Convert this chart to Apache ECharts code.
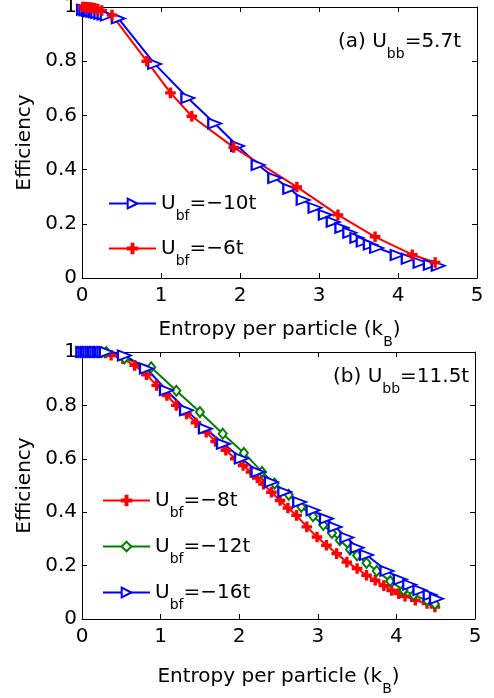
<!DOCTYPE html>
<html>
<head>
<meta charset="utf-8">
<script src="https://cdn.jsdelivr.net/npm/echarts@6/dist/echarts.min.js"></script>
<style>html,body{margin:0;padding:0;background:#fff}#c{width:494px;height:698px}</style>
</head>
<body>
<div id="c"></div>
<script>
// ---- data ----
var xTicks = [0, 1, 2, 3, 4, 5];
var yTicks = [0, 0.2, 0.4, 0.6, 0.8, 1];

// panel (a) U_bb = 5.7t
var aX_m10 = [0.02,0.05,0.08,0.11,0.14,0.17,0.2,0.24,0.28,0.32,0.46,0.92,1.34,1.68,1.97,2.23,2.44,2.63,2.80,2.95,3.08,3.18,3.29,3.39,3.48,3.56,3.65,3.73,3.99,4.13,4.28,4.41,4.51];
var aY_m10 = [0.99,0.988,0.986,0.984,0.982,0.98,0.978,0.975,0.972,0.968,0.958,0.79,0.664,0.57,0.487,0.417,0.369,0.329,0.288,0.259,0.233,0.207,0.185,0.167,0.148,0.134,0.123,0.111,0.085,0.071,0.056,0.049,0.045];
var aX_m6 = [0.01,0.04,0.07,0.1,0.13,0.16,0.2,0.25,0.38,0.82,1.12,1.39,1.92,2.72,3.24,3.71,4.18,4.47];
var aY_m6 = [1.0,1.0,0.999,0.998,0.997,0.995,0.992,0.987,0.97,0.80,0.683,0.597,0.482,0.336,0.233,0.152,0.086,0.057];

// panel (b) U_bb = 11.5t
var bX_m8 = [0.01,0.05,0.1,0.15,0.2,0.25,0.3,0.37,0.52,0.67,0.82,0.95,1.08,1.2,1.33,1.45,1.58,1.7,1.83,1.95,2.05,2.15,2.23,2.31,2.41,2.52,2.62,2.73,2.86,2.99,3.11,3.24,3.37,3.50,3.62,3.73,3.84,3.94,4.03,4.11,4.24,4.39,4.49];
var bY_m8 = [1,1,1,1,0.999,0.998,0.996,0.988,0.975,0.95,0.915,0.875,0.837,0.80,0.768,0.735,0.70,0.665,0.632,0.60,0.575,0.55,0.528,0.505,0.475,0.444,0.416,0.388,0.345,0.307,0.276,0.245,0.213,0.189,0.164,0.145,0.125,0.107,0.095,0.085,0.07,0.058,0.045];
var bX_m12 = [0.01,0.05,0.1,0.15,0.2,0.25,0.31,0.54,0.88,1.2,1.5,1.79,2.06,2.29,2.45,2.63,2.79,2.94,3.07,3.18,3.28,3.41,3.50,3.62,3.75,3.92,4.09,4.22,4.39,4.49];
var bY_m12 = [1,1,1,1,1,1,1,0.976,0.943,0.855,0.775,0.694,0.622,0.551,0.507,0.465,0.42,0.385,0.352,0.322,0.295,0.26,0.238,0.21,0.18,0.142,0.108,0.09,0.07,0.056];
var bX_m16 = [0.01,0.04,0.07,0.1,0.13,0.16,0.19,0.22,0.25,0.28,0.31,0.54,0.82,1.075,1.33,1.57,1.80,2.03,2.24,2.41,2.58,2.77,2.94,3.11,3.22,3.37,3.50,3.62,3.88,4.05,4.17,4.30,4.43,4.51];
var bY_m16 = [1,1,1,1,1,1,1,1,1,1,1,0.987,0.938,0.857,0.782,0.713,0.656,0.601,0.551,0.513,0.476,0.438,0.407,0.376,0.345,0.305,0.267,0.24,0.18,0.148,0.128,0.108,0.09,0.076];

var seriesNames = ['U_bf=−10t','U_bf=−6t','U_bf=−8t','U_bf=−12t','U_bf=−16t'];

// ---- build ----
function zip(xs, ys){ return xs.map(function(x,i){return [x, ys[i]];}); }
var FONT = '"DejaVu Sans", Verdana, sans-serif';
var rich = {
  m: {fontFamily: FONT, fontSize: 20, color: '#000', lineHeight: 24},
  s: {fontFamily: FONT, fontSize: 14, color: '#000', lineHeight: 14, padding: [25,0,0,0]}
};
function subText(name){
  var p = name.split('_'); var rest = p[1];
  var sub = rest.match(/^[a-zA-Z]+/)[0];
  return '{m|' + p[0] + '}{s|' + sub + '}{m|' + rest.slice(sub.length) + '}';
}
var PLUS = 'path://M4,0H6V4H10V6H6V10H4V6H0V4H4Z';
var styles = {
  'U_bf=−10t': {color:'#0000ff', symbol:'emptyTriangle', size:[10,13], rot:-90},
  'U_bf=−16t': {color:'#0000ff', symbol:'emptyTriangle', size:[10,13], rot:-90},
  'U_bf=−6t':  {color:'#ff0000', symbol:PLUS, size:9, rot:0},
  'U_bf=−8t':  {color:'#ff0000', symbol:PLUS, size:9, rot:0},
  'U_bf=−12t': {color:'#008000', symbol:'emptyDiamond', size:[8,10], rot:0}
};
function mkSeries(name, xs, ys, axisIdx){
  var st = styles[name];
  return {
    name: name, type: 'line', xAxisIndex: axisIdx, yAxisIndex: axisIdx,
    data: zip(xs, ys), showSymbol: true, symbol: st.symbol, symbolSize: st.size, symbolRotate: st.rot,
    lineStyle: {color: st.color, width: 2}, itemStyle: {color: st.color, borderColor: st.color, borderWidth: 1.6},
    emphasis: {disabled: true}, animation: false, clip: false, z: 3
  };
}
function xAx(grid, pos, labels, gap){
  return {
    gridIndex: grid, type: 'value', position: pos, min: xTicks[0], max: xTicks[xTicks.length-1], interval: 1,
    axisLine: {show: true, onZero: false, lineStyle: {color: '#000', width: 1}},
    axisTick: {show: true, inside: true, length: 5, lineStyle: {color: '#000'}},
    axisLabel: {show: labels, fontFamily: FONT, fontSize: 20, color: '#000', margin: 8},
    splitLine: {show: false},
    name: labels ? '{m|Entropy per particle (k}{s|B}{m|)}' : '', nameLocation: 'middle', nameGap: gap || 0,
    nameMoveOverlap: false,
    nameTextStyle: {rich: rich}
  };
}
function yAx(grid, pos, labels){
  return {
    gridIndex: grid, type: 'value', position: pos, min: yTicks[0], max: yTicks[yTicks.length-1], interval: 0.2,
    axisLine: {show: true, onZero: false, lineStyle: {color: '#000', width: 1}},
    axisTick: {show: true, inside: true, length: 5, lineStyle: {color: '#000'}},
    axisLabel: {show: labels, fontFamily: FONT, fontSize: 20, color: '#000', margin: 5},
    splitLine: {show: false},
    name: labels ? 'Efficiency' : '', nameLocation: 'middle', nameGap: 47, nameRotate: 90,
    nameMoveOverlap: false,
    nameTextStyle: {fontFamily: FONT, fontSize: 20, color: '#000'}
  };
}
var option = {
  backgroundColor: '#fff',
  animation: false,
  grid: [
    {left: 82, top: 7, width: 395, height: 271, outerBoundsMode: 'none'},
    {left: 82, top: 352, width: 393, height: 267, outerBoundsMode: 'none'}
  ],
  xAxis: [xAx(0,'bottom',true,40), xAx(0,'top',false), xAx(1,'bottom',true,46), xAx(1,'top',false)],
  yAxis: [yAx(0,'left',true), yAx(0,'right',false), yAx(1,'left',true), yAx(1,'right',false)],
  legend: [
    {data: [seriesNames[0], seriesNames[1]], orient: 'vertical', left: 103, top: 179, itemWidth: 47, itemHeight: 12,
     itemGap: 6, selectedMode: false, formatter: subText, textStyle: {rich: rich}},
    {data: [seriesNames[2], seriesNames[3], seriesNames[4]], orient: 'vertical', left: 97, top: 476, itemWidth: 47, itemHeight: 12,
     itemGap: 7, selectedMode: false, formatter: subText, textStyle: {rich: rich}}
  ],
  graphic: [
    {type: 'text', left: 338, top: 22, z: 10, style: {text: '{m|(a) U}{s|bb}{m|=5.7t}', rich: rich}},
    {type: 'text', left: 333, top: 357, z: 10, style: {text: '{m|(b) U}{s|bb}{m|=11.5t}', rich: rich}}
  ],
  series: [
    mkSeries(seriesNames[0], aX_m10, aY_m10, 0),
    mkSeries(seriesNames[1], aX_m6, aY_m6, 0),
    mkSeries(seriesNames[2], bX_m8, bY_m8, 2),
    mkSeries(seriesNames[3], bX_m12, bY_m12, 2),
    mkSeries(seriesNames[4], bX_m16, bY_m16, 2)
  ]
};
var chart = echarts.init(document.getElementById('c'), null, {renderer: 'canvas'});
chart.setOption(option);
</script>
</body>
</html>
